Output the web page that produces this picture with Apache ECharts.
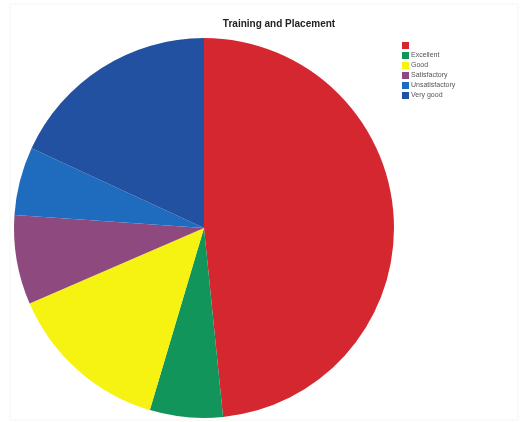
<!DOCTYPE html>
<html>
<head>
<meta charset="utf-8">
<script src="https://cdn.jsdelivr.net/npm/echarts@6/dist/echarts.min.js"></script>
<style>
  html, body { margin: 0; padding: 0; background: #fff; }
  #chart { width: 520px; height: 422px; }
</style>
</head>
<body>
<div id="chart"></div>
<script>
// values (share of the pie, %)
const categories = [' ', 'Excellent', 'Good', 'Satisfactory', 'Unsatisfactory', 'Very good']
const values = [48.4, 6.2, 13.9, 7.6, 5.8, 18.1]
const colors = ['#d4272f', '#12955a', '#f6f212', '#8e4a7e', '#1f6cbf', '#2151a0']

const chart = echarts.init(document.getElementById('chart'))
chart.setOption({
  animation: false,
  title: {
    text: 'Training and Placement',
    left: 274,
    top: 14,
    textAlign: 'center',
    textStyle: { fontSize: 10, fontWeight: 'bold', color: '#222', fontFamily: 'Liberation Sans' }
  },
  legend: {
    orient: 'vertical',
    left: 397,
    top: 37,
    itemWidth: 7,
    itemHeight: 7,
    itemGap: 3,
    icon: 'rect',
    textStyle: { fontSize: 7, color: '#555', fontFamily: 'Liberation Sans', padding: [0, 0, 0, -3] },
    data: categories
  },
  graphic: [{
    type: 'rect',
    shape: { x: 10, y: 4, width: 508, height: 416 },
    style: { fill: 'none', stroke: '#f5f5f5', lineWidth: 1 }
  }],
  series: [{
    type: 'pie',
    center: [204, 228],
    radius: 190,
    startAngle: 90,
    clockwise: true,
    label: { show: false },
    labelLine: { show: false },
    emphasis: { disabled: true },
    data: categories.map((c, i) => ({ name: c, value: values[i], itemStyle: { color: colors[i] } }))
  }]
})
</script>
</body>
</html>
